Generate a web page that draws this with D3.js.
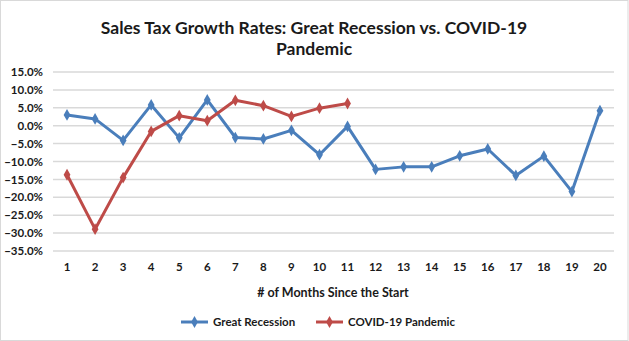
<!DOCTYPE html>
<html>
<head>
<meta charset="utf-8">
<script src="https://cdn.jsdelivr.net/npm/d3@7"></script>
<style>
  body { margin: 0; background: #fff; }
  text { font-family: Lato, "Open Sans", sans-serif; fill: #1a1a1a; }
</style>
</head>
<body>
<div id="chart"></div>
<script>
(function() {
  var width = 629, height = 341;
  var margin = { top: 72, left: 53, right: 15, bottom: 90 };

  var months = d3.range(1, 21);
  var greatRecession = [3.0, 1.9, -4.1, 5.8, -3.4, 7.2, -3.3, -3.7, -1.3, -8.1,
                        -0.2, -12.2, -11.5, -11.5, -8.4, -6.5, -13.9, -8.5, -18.4, 4.2];
  var covid = [-13.7, -28.9, -14.5, -1.6, 2.8, 1.4, 7.1, 5.6, 2.6, 4.9, 6.2];
  var yTicks = [15, 10, 5, 0, -5, -10, -15, -20, -25, -30, -35];

  var series = [
    { name: "Great Recession", values: greatRecession, color: "#4A7EBB" },
    { name: "COVID-19 Pandemic", values: covid, color: "#BE4B48" }
  ];

  var svg = d3.select("#chart")
    .append("svg")
    .attr("width", width)
    .attr("height", height);

  // outer frame
  svg.append("rect")
    .attr("x", 0.5).attr("y", 0.5)
    .attr("width", width - 1.5).attr("height", height - 1)
    .attr("fill", "#fff")
    .attr("stroke", "#d9d9d9");

  var x = d3.scaleBand()
    .domain(months)
    .range([margin.left, width - margin.right]);

  var y = d3.scaleLinear()
    .domain([-35, 15])
    .range([251, margin.top]);

  // gridlines
  svg.append("g")
    .selectAll("line")
    .data(yTicks)
    .enter().append("line")
    .attr("x1", margin.left)
    .attr("x2", width - margin.right)
    .attr("y1", function(d) { return y(d); })
    .attr("y2", function(d) { return y(d); })
    .attr("stroke", "#d9d9d9")
    .attr("stroke-width", 1.5);

  // y axis
  var yAxis = svg.append("g")
    .attr("transform", "translate(" + margin.left + ",0)")
    .call(d3.axisLeft(y).tickValues(yTicks).tickSize(0).tickPadding(10)
      .tickFormat(function(d) { return d3.format(".1f")(d) + "%"; }));
  yAxis.select(".domain").remove();
  yAxis.selectAll("text")
    .style("font-size", "11.5px")
    .style("font-weight", "bold")
    .attr("fill", "#1a1a1a");

  // x axis
  var xAxis = svg.append("g")
    .attr("transform", "translate(0,261)")
    .call(d3.axisBottom(x).tickSize(0).tickPadding(2));
  xAxis.select(".domain").remove();
  xAxis.selectAll("text")
    .style("font-size", "11.5px")
    .style("font-weight", "bold")
    .attr("fill", "#1a1a1a");

  svg.append("text")
    .attr("x", 333).attr("y", 297)
    .attr("text-anchor", "middle")
    .style("font-size", "12.5px")
    .style("font-weight", "bold")
    .text("# of Months Since the Start");

  // title
  var title = svg.append("text")
    .attr("text-anchor", "middle")
    .style("font-size", "17.5px")
    .style("font-weight", "bold");
  title.append("tspan").attr("x", 314).attr("y", 34)
    .text("Sales Tax Growth Rates: Great Recession vs. COVID-19");
  title.append("tspan").attr("x", 314).attr("y", 55)
    .text("Pandemic");

  var line = d3.line()
    .x(function(d, i) { return x(months[i]) + x.bandwidth() / 2; })
    .y(function(d) { return y(d); });

  var diamond = d3.symbol().type(d3.symbolDiamond).size(40);

  series.forEach(function(s) {
    svg.append("path")
      .datum(s.values)
      .attr("d", line)
      .attr("fill", "none")
      .attr("stroke", s.color)
      .attr("stroke-width", 3)
      .attr("stroke-linejoin", "round");

    svg.append("g")
      .selectAll("path")
      .data(s.values)
      .enter().append("path")
      .attr("d", diamond)
      .attr("transform", function(d, i) {
        return "translate(" + (x(months[i]) + x.bandwidth() / 2) + "," + y(d) + ")";
      })
      .attr("fill", s.color);
  });

  // legend
  var legendX = [181, 316];
  var legend = svg.append("g")
    .selectAll("g")
    .data(series)
    .enter().append("g")
    .attr("transform", function(d, i) { return "translate(" + legendX[i] + ",322)"; });

  legend.append("line")
    .attr("x1", 0).attr("x2", 27)
    .attr("stroke", function(d) { return d.color; })
    .attr("stroke-width", 3);
  legend.append("path")
    .attr("d", diamond)
    .attr("transform", "translate(13.5,0)")
    .attr("fill", function(d) { return d.color; });
  legend.append("text")
    .attr("x", 32).attr("y", 4)
    .style("font-size", "11.5px")
    .style("font-weight", "bold")
    .text(function(d) { return d.name; });
})();
</script>
</body>
</html>
